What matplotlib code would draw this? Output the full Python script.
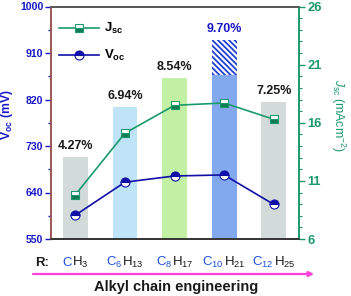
import numpy as np
import matplotlib
matplotlib.use('Agg')
import matplotlib.pyplot as plt

plt.rcParams['font.family'] = 'Liberation Sans'
plt.rcParams['mathtext.fontset'] = 'custom'
plt.rcParams['mathtext.rm'] = 'Liberation Sans'
plt.rcParams['mathtext.it'] = 'Liberation Sans:italic'
plt.rcParams['mathtext.bf'] = 'Liberation Sans:bold'
plt.rcParams['hatch.linewidth'] = 1.3

# data
blue_part = ['C', 'C$_{6}$', 'C$_{8}$', 'C$_{10}$', 'C$_{12}$']
black_part = ['H$_{3}$', 'H$_{13}$', 'H$_{17}$', 'H$_{21}$', 'H$_{25}$']
pce = ['4.27%', '6.94%', '8.54%', '9.70%', '7.25%']
bar_height = [4.3, 6.95, 8.45, 8.6, 7.2]      # drawn heights (%)
hatch_top = 10.45                               # C10H21 hatched extension
voc = [596, 660, 672, 674, 617]
jsc = [9.8, 15.1, 17.5, 17.7, 16.3]
bar_colors = ['#d3dada', '#bfe4f8', '#c2f0a4', '#82a9ee', '#d3dada']

blue = '#1818c8'
green = '#1a9a6a'
x = np.arange(len(voc))

fig = plt.figure(figsize=(3.51, 2.96), dpi=100)
rect = [51/351, 1-239/296, 248/351, 232.5/296]
axb = fig.add_axes(rect)
ax = fig.add_axes(rect)
ax.patch.set_visible(False)
ax2 = ax.twinx()

# bars
axb.bar(x, bar_height, width=0.5, color=bar_colors, zorder=1)
axb.bar(x[3], hatch_top - bar_height[3], bottom=bar_height[3], width=0.5,
        color='white', edgecolor='#2040d0', linewidth=0, hatch='\\\\\\\\\\\\')
axb.set_ylim(0, 12.2)
axb.set_xlim(-0.49, 4.51)
axb.axis('off')
for i, t in enumerate(pce):
    top = hatch_top if i == 3 else bar_height[i]
    axb.text(i, top + 0.25, t, ha='center', va='bottom', fontsize=9,
             fontweight='bold', color=blue if i == 3 else '#1a1a1a')

# Voc
ax.plot(x, voc, color='#1010a8', lw=1.2, marker='o', ms=6.5, fillstyle='top',
        mfc='#1010a8', mfcalt='white', mec='#1010a8', mew=0.8, label='V$_{\\mathregular{oc}}$')
ax.set_xlim(-0.49, 4.51)
ax.set_ylim(550, 1000)
ax.set_yticks([550, 640, 730, 820, 910, 1000])
ax.set_yticks(np.arange(595, 1000, 90), minor=True)
ax.tick_params(axis='y', colors=blue, labelsize=7.6, width=1, length=4, which='major', pad=1.5)
ax.tick_params(axis='y', colors=blue, width=1, length=2, which='minor')
for lab in ax.get_yticklabels():
    lab.set_fontweight('bold')
ax.set_xticks([])
ax.set_ylabel('V$_{\\mathbf{oc}}$ (mV)', color=blue, fontsize=8.8, fontweight='bold')
ax.yaxis.set_label_coords(-0.145, 0.535)

# Jsc
ax2.plot(x, jsc, color=green, lw=1.2, marker='s', ms=6, fillstyle='bottom',
         mfc='#137a55', mfcalt='white', mec=green, mew=0.8, label='J$_{\\mathregular{sc}}$')
ax2.set_ylim(6, 26)
ax2.set_yticks([6, 11, 16, 21, 26])
ax2.set_yticks(np.arange(7, 26, 1), minor=True)
ax2.tick_params(axis='y', colors=green, labelsize=9.3, width=1, length=4, which='major', pad=2)
ax2.tick_params(axis='y', colors=green, width=0.8, length=2, which='minor')
for lab in ax2.get_yticklabels():
    lab.set_fontweight('bold')
ax2.set_ylabel('$\\mathit{J}_{\\mathregular{sc}}$ (mAcm$^{-2}$)', color=green, fontsize=8.8,
               rotation=270, va='bottom')
ax2.yaxis.set_label_coords(1.12, 0.53)

for a in (ax, ax2):
    a.spines['top'].set_color('#555555')
    a.spines['bottom'].set_color('#333333')
    a.spines['left'].set_color('#9a5858')
    a.spines['right'].set_color(green)
    for s in a.spines.values():
        s.set_linewidth(1.2)

h1, l1 = ax.get_legend_handles_labels()
h2, l2 = ax2.get_legend_handles_labels()
ax2.legend(h2 + h1, l2 + l1, loc='upper left', frameon=False,
           handlelength=3.0, handletextpad=0.4, labelspacing=0.9, borderaxespad=0.2,
           bbox_to_anchor=(0.0, 0.97), prop={'weight': 'bold', 'size': 9.5})

# x labels with two colours
fig.canvas.draw()
r = fig.canvas.get_renderer()
for i in range(len(x)):
    tb = ax.annotate(blue_part[i], xy=(i, 0), xycoords=('data', 'axes fraction'),
                     xytext=(0, -27), textcoords='offset pixels', ha='right',
                     va='baseline', color='#1a50e0', fontsize=9.5)
    tk = ax.annotate(black_part[i], xy=(i, 0), xycoords=('data', 'axes fraction'),
                     xytext=(0, -27), textcoords='offset pixels', ha='left',
                     va='baseline', color='#1a1a1a', fontsize=9.5)
    wb = tb.get_window_extent(r).width
    wk = tk.get_window_extent(r).width
    dx = (wb - wk) / 2
    tb.xyann = (dx, -27)
    tk.xyann = (dx, -27)

fig.text(35/351, 1-266/296, 'R:', ha='left', va='baseline', fontsize=9.5,
         fontweight='bold', color='#1a1a1a')
ax.annotate('', xy=(314/351, 1-274/296), xytext=(33/351, 1-274/296),
            xycoords='figure fraction', textcoords='figure fraction',
            arrowprops=dict(arrowstyle='-|>', color='#ff3fd8', lw=1.6,
                            mutation_scale=7, shrinkA=0, shrinkB=0))
fig.text(176/351, 1-287/296, 'Alkyl chain engineering', ha='center', va='center',
         fontsize=10.5, fontweight='bold', color='#1a1a1a')

fig.savefig('out.png', dpi=100)
